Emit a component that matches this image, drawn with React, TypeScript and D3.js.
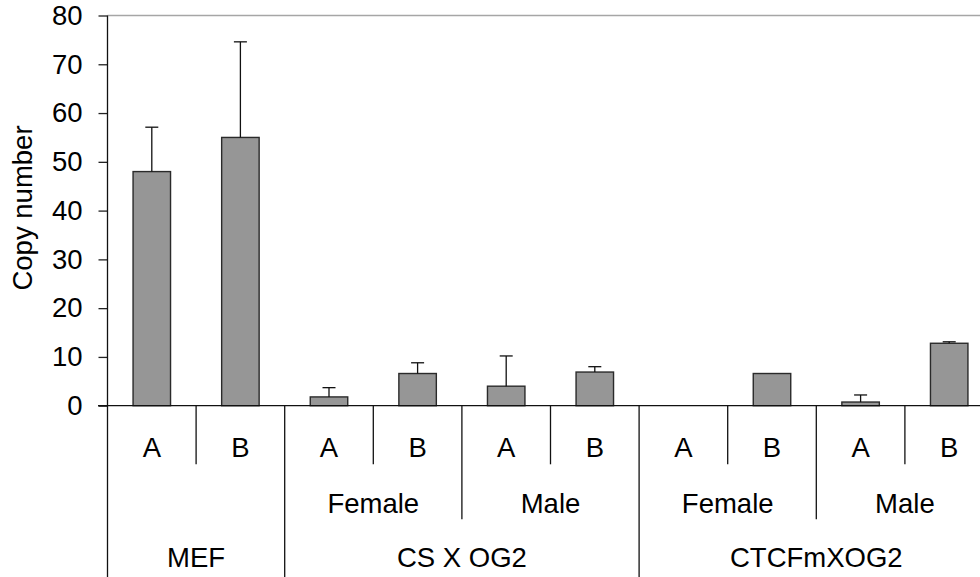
import React, { useEffect, useRef } from 'react';
import * as d3 from 'd3';

// one entry per bar, left to right
const strains = ['MEF', 'MEF', 'CS X OG2', 'CS X OG2', 'CS X OG2', 'CS X OG2', 'CTCFmXOG2', 'CTCFmXOG2', 'CTCFmXOG2', 'CTCFmXOG2'];
const sexes = ['', '', 'Female', 'Female', 'Male', 'Male', 'Female', 'Female', 'Male', 'Male'];
const alleles = ['A', 'B', 'A', 'B', 'A', 'B', 'A', 'B', 'A', 'B'];
const copyNumber = [48, 55, 1.8, 6.6, 4.0, 6.9, 0, 6.6, 0.75, 12.8];
// top of the error bar, null = no error bar drawn
const errorTop: (number | null)[] = [57.1, 74.6, 3.7, 8.8, 10.2, 8.0, null, null, 2.2, 13.1];
const yTicks = [0, 10, 20, 30, 40, 50, 60, 70, 80];

const FONT = '"Liberation Sans", Arial, sans-serif';
const FS = 27.5;

const App: React.FC = () => {
    const svgRef = useRef<SVGSVGElement>(null);

    useEffect(() => {
        const width = 980;
        const height = 577;
        const left = 107.5;
        const step = 88.6;
        const baseY = 405.7;

        const svg = d3.select(svgRef.current);
        svg.selectAll('*').remove();
        svg.attr('width', width).attr('height', height);

        const ids = alleles.map((_, i) => String(i));
        const x = d3.scaleBand<string>()
            .domain(ids)
            .range([left, left + step * ids.length])
            .padding(0);

        const y = d3.scaleLinear().domain([0, 80]).range([baseY, 15.5]);

        const barW = x.bandwidth() * 0.423;

        // top border of plot area
        svg.append('line')
            .attr('x1', left).attr('x2', left + step * ids.length)
            .attr('y1', y(80)).attr('y2', y(80))
            .attr('stroke', '#a6a6a6').attr('stroke-width', 1.3);

        // y axis
        const yAxis = svg.append('g')
            .attr('transform', `translate(${left},0)`)
            .call(d3.axisLeft(y).tickValues(yTicks).tickSize(9).tickPadding(16).tickFormat(d3.format('d')));
        yAxis.select('.domain').remove();
        yAxis.selectAll('line').attr('stroke', '#222').attr('stroke-width', 1.3);
        yAxis.selectAll('text')
            .attr('font-family', FONT).attr('font-size', FS).attr('fill', '#000');

        // vertical axis line, extends into category table
        svg.append('line')
            .attr('x1', left).attr('x2', left)
            .attr('y1', y(80)).attr('y2', height)
            .attr('stroke', '#111').attr('stroke-width', 1.3);

        // bars
        svg.selectAll('rect.bar')
            .data(copyNumber.map((v, i) => ({ v, i })).filter(d => d.v > 0))
            .enter()
            .append('rect')
            .attr('class', 'bar')
            .attr('x', d => (x(String(d.i)) || 0) + (x.bandwidth() - barW) / 2)
            .attr('y', d => y(d.v))
            .attr('width', barW)
            .attr('height', d => y(0) - y(d.v))
            .attr('fill', '#969696')
            .attr('stroke', '#2a2a2a')
            .attr('stroke-width', 1.4);

        // error bars
        const errs = errorTop.map((e, i) => ({ e, i })).filter(d => d.e !== null) as { e: number; i: number }[];
        const cx = (i: number) => (x(String(i)) || 0) + x.bandwidth() / 2;
        const eg = svg.append('g').attr('stroke', '#111').attr('stroke-width', 1.3);
        errs.forEach(d => {
            eg.append('line')
                .attr('x1', cx(d.i)).attr('x2', cx(d.i))
                .attr('y1', y(copyNumber[d.i])).attr('y2', y(d.e));
            eg.append('line')
                .attr('x1', cx(d.i) - 6.5).attr('x2', cx(d.i) + 6.5)
                .attr('y1', y(d.e)).attr('y2', y(d.e));
        });

        // baseline
        svg.append('line')
            .attr('x1', 98).attr('x2', left + step * ids.length)
            .attr('y1', baseY).attr('y2', baseY)
            .attr('stroke', '#111').attr('stroke-width', 1.3);

        // category separators
        const sepG = svg.append('g').attr('stroke', '#111').attr('stroke-width', 1.3);
        for (let i = 1; i < ids.length; i++) {
            let bottom = 464.3;
            if (strains[i] !== strains[i - 1]) bottom = height;
            else if (sexes[i] !== sexes[i - 1]) bottom = 519.3;
            const bx = x(String(i)) || 0;
            sepG.append('line')
                .attr('x1', bx).attr('x2', bx)
                .attr('y1', baseY).attr('y2', bottom);
        }

        const labelG = svg.append('g')
            .attr('font-family', FONT).attr('font-size', FS)
            .attr('fill', '#000').attr('text-anchor', 'middle');

        // allele labels
        alleles.forEach((a, i) => {
            labelG.append('text').attr('x', cx(i)).attr('y', 456.7).text(a);
        });

        // spans of consecutive equal labels
        const spans = (arr: string[]) => {
            const out: { label: string; start: number; end: number }[] = [];
            arr.forEach((v, i) => {
                const last = out[out.length - 1];
                if (last && last.label === v && strains[i] === strains[last.start]) last.end = i;
                else out.push({ label: v, start: i, end: i });
            });
            return out;
        };
        const spanCenter = (s: { start: number; end: number }) =>
            ((x(String(s.start)) || 0) + (x(String(s.end)) || 0) + x.bandwidth()) / 2;

        spans(sexes).filter(s => s.label !== '').forEach(s => {
            labelG.append('text').attr('x', spanCenter(s)).attr('y', 512.7).text(s.label);
        });
        spans(strains).forEach(s => {
            labelG.append('text').attr('x', spanCenter(s)).attr('y', 566.7).text(s.label);
        });

        // y title
        svg.append('text')
            .attr('transform', `translate(32,208) rotate(-90)`)
            .attr('text-anchor', 'middle')
            .attr('font-family', FONT).attr('font-size', FS).attr('fill', '#000')
            .text('Copy number');
    }, []);

    return <svg ref={svgRef} style={{ position: 'absolute', left: 0, top: 0, display: 'block' }}></svg>;
};

export default App;
